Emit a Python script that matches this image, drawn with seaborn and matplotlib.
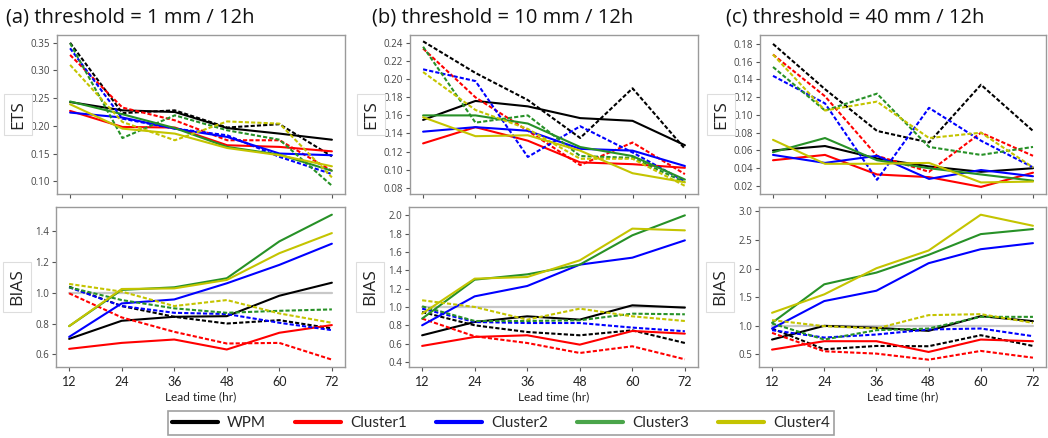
import numpy as np
import pandas as pd
import matplotlib
matplotlib.use("Agg")
import matplotlib.pyplot as plt
import seaborn as sns
from matplotlib.lines import Line2D

sns.set_style("white")
plt.rcParams['font.family'] = ['Open Sans', 'DejaVu Sans']

lead_times = [12, 24, 36, 48, 60, 72]
models = ['WPM', 'Cluster1', 'Cluster2', 'Cluster3', 'Cluster4']
colors = ['black', 'red', 'blue', '#279127', '#c4c400']
titles = ['(a) threshold = 1 mm / 12h', '(b) threshold = 10 mm / 12h', '(c) threshold = 40 mm / 12h']

# ---- ETS, rows = WPM, Cluster1..4 ----
ets_a_solid = [[0.243, 0.228, 0.225, 0.196, 0.186, 0.175],
               [0.227, 0.198, 0.197, 0.165, 0.162, 0.154],
               [0.224, 0.215, 0.195, 0.180, 0.150, 0.147],
               [0.244, 0.221, 0.196, 0.162, 0.148, 0.119],
               [0.239, 0.195, 0.186, 0.160, 0.147, 0.127]]
ets_a_dash = [[0.350, 0.223, 0.228, 0.197, 0.203, 0.145],
              [0.328, 0.233, 0.210, 0.174, 0.174, 0.119],
              [0.340, 0.213, 0.195, 0.183, 0.144, 0.113],
              [0.349, 0.178, 0.219, 0.192, 0.175, 0.092],
              [0.310, 0.207, 0.174, 0.208, 0.204, 0.107]]
ets_b_solid = [[0.155, 0.176, 0.170, 0.157, 0.154, 0.127],
               [0.129, 0.147, 0.132, 0.108, 0.106, 0.102],
               [0.142, 0.147, 0.143, 0.123, 0.121, 0.104],
               [0.160, 0.160, 0.151, 0.125, 0.115, 0.089],
               [0.158, 0.137, 0.138, 0.121, 0.096, 0.086]]
ets_b_dash = [[0.242, 0.207, 0.177, 0.135, 0.190, 0.123],
              [0.234, 0.180, 0.143, 0.105, 0.130, 0.095],
              [0.211, 0.198, 0.114, 0.148, 0.119, 0.087],
              [0.236, 0.152, 0.160, 0.115, 0.113, 0.086],
              [0.208, 0.166, 0.145, 0.112, 0.112, 0.082]]
ets_c_solid = [[0.060, 0.065, 0.051, 0.042, 0.036, 0.040],
               [0.049, 0.055, 0.033, 0.030, 0.019, 0.035],
               [0.055, 0.046, 0.054, 0.028, 0.038, 0.031],
               [0.058, 0.074, 0.049, 0.040, 0.033, 0.026],
               [0.072, 0.045, 0.045, 0.046, 0.024, 0.025]]
ets_c_dash = [[0.180, 0.129, 0.082, 0.069, 0.134, 0.082],
              [0.168, 0.121, 0.054, 0.036, 0.080, 0.054],
              [0.144, 0.113, 0.027, 0.108, 0.071, 0.041],
              [0.154, 0.105, 0.124, 0.064, 0.055, 0.064],
              [0.168, 0.105, 0.115, 0.074, 0.080, 0.041]]

# ---- BIAS ----
bias_a_solid = [[0.700, 0.818, 0.844, 0.848, 0.981, 1.066],
                [0.635, 0.674, 0.696, 0.631, 0.740, 0.790],
                [0.713, 0.931, 0.957, 1.062, 1.182, 1.320],
                [0.783, 1.019, 1.036, 1.095, 1.335, 1.509],
                [0.783, 1.025, 1.029, 1.084, 1.258, 1.389]]
bias_a_dash = [[1.040, 0.914, 0.844, 0.800, 0.822, 0.768],
               [0.997, 0.840, 0.746, 0.670, 0.674, 0.565],
               [1.036, 0.914, 0.870, 0.862, 0.805, 0.757],
               [1.036, 0.953, 0.899, 0.870, 0.883, 0.892],
               [1.058, 1.008, 0.914, 0.953, 0.866, 0.805]]
bias_b_solid = [[0.691, 0.836, 0.898, 0.862, 1.018, 0.993],
                [0.575, 0.673, 0.691, 0.589, 0.738, 0.709],
                [0.800, 1.116, 1.229, 1.462, 1.538, 1.727],
                [0.873, 1.298, 1.356, 1.462, 1.782, 2.000],
                [0.927, 1.309, 1.327, 1.509, 1.855, 1.836]]
bias_b_dash = [[0.945, 0.800, 0.727, 0.691, 0.745, 0.607],
               [0.873, 0.680, 0.607, 0.498, 0.571, 0.429],
               [0.982, 0.836, 0.825, 0.825, 0.775, 0.735],
               [1.007, 0.847, 0.847, 0.855, 0.927, 0.920],
               [1.073, 1.000, 0.862, 0.982, 0.898, 0.847]]
bias_c_solid = [[0.758, 0.998, 0.963, 0.910, 1.167, 1.080],
                [0.582, 0.729, 0.729, 0.541, 0.758, 0.729],
                [0.951, 1.431, 1.612, 2.093, 2.338, 2.444],
                [1.050, 1.724, 1.929, 2.239, 2.602, 2.690],
                [1.226, 1.548, 2.005, 2.315, 2.941, 2.748]]
bias_c_dash = [[0.951, 0.588, 0.646, 0.641, 0.834, 0.646],
               [0.875, 0.553, 0.512, 0.406, 0.559, 0.441],
               [0.922, 0.793, 0.846, 0.934, 0.951, 0.817],
               [1.039, 0.758, 0.922, 0.951, 1.155, 1.155],
               [1.097, 0.992, 0.951, 1.185, 1.202, 1.050]]

ets_yticks = [np.arange(0.10, 0.351, 0.05), np.arange(0.08, 0.241, 0.02), np.arange(0.02, 0.181, 0.02)]
ets_ylim = [(0.077, 0.364), (0.073, 0.249), (0.011, 0.190)]
bias_yticks = [np.arange(0.6, 1.41, 0.2), np.arange(0.4, 2.01, 0.2), np.arange(0.5, 3.01, 0.5)]
bias_ylim = [(0.517, 1.559), (0.345, 2.091), (0.278, 3.076)]


def long_df(solid, dash):
    rows = []
    for kind, arr in (('solid', solid), ('dash', dash)):
        for m, vals in zip(models, arr):
            for t, v in zip(lead_times, vals):
                rows.append((t, v, m, kind))
    return pd.DataFrame(rows, columns=['lead', 'value', 'model', 'kind'])


W, H = 1048, 438
fig = plt.figure(figsize=(W / 100, H / 100), dpi=100)


def ax_at(l, t, r, b):
    return fig.add_axes([l / W, 1 - b / H, (r - l) / W, (b - t) / H])

lefts = [57, 410, 760]
rights = [345, 698, 1046]
ets_data = [(ets_a_solid, ets_a_dash), (ets_b_solid, ets_b_dash), (ets_c_solid, ets_c_dash)]
bias_data = [(bias_a_solid, bias_a_dash), (bias_b_solid, bias_b_dash), (bias_c_solid, bias_c_dash)]
title_x = [6, 372, 726]
palette = dict(zip(models, colors))
dashes = {'solid': '', 'dash': (2.0, 1.0)}

for i in range(3):
    ax1 = ax_at(lefts[i], 35, rights[i], 194)
    ax2 = ax_at(lefts[i] - 1, 207, rights[i], 367)
    for ax, data, yt, yl, lab, fmt in ((ax1, ets_data[i], ets_yticks[i], ets_ylim[i], 'ETS', '{:.2f}'),
                                       (ax2, bias_data[i], bias_yticks[i], bias_ylim[i], 'BIAS', '{:.1f}')):
        df = long_df(*data)
        if lab == 'BIAS':
            ax.plot([lead_times[0], lead_times[-1]], [1, 1], color='#c8c8c8', lw=1.6, zorder=1)
        sns.lineplot(data=df, x='lead', y='value', hue='model', style='kind',
                     palette=palette, dashes=dashes, ax=ax, legend=False, lw=1.5,
                     hue_order=models, style_order=['solid', 'dash'], zorder=2)
        ax.set_xlim(9.0, 75.0)
        ax.set_ylim(*yl)
        ax.set_yticks(yt)
        ax.set_yticklabels([fmt.format(v) for v in yt], fontsize=7, color='#444444')
        ax.set_xticks(lead_times)
        ax.tick_params(axis='both', length=3, width=0.8, color='#555555', direction='out')
        ax.tick_params(axis='y', pad=2, left=True)
        ax.tick_params(axis='x', bottom=True)
        for s in ax.spines.values():
            s.set_color('#9a9a9a')
            s.set_linewidth(1.0)
        ax.set_xlabel('')
        ax.set_ylabel('')
        ax.text(-0.135, 0.5, lab, transform=ax.transAxes, rotation=90, fontsize=12.5,
                ha='center', va='center', color='#222222',
                bbox=dict(boxstyle='square,pad=0.35', fc='white', ec='#dddddd', lw=0.8))
        if lab == 'ETS':
            ax.set_xticklabels([])
        else:
            ax.set_xticklabels([str(t) for t in lead_times], fontsize=9, color='#222222',
                               family=['Lato', 'DejaVu Sans'])
            ax.text(0.5, -0.185, 'Lead time (hr)', transform=ax.transAxes, fontsize=8.5,
                    ha='center', va='center', color='#222222', family=['Lato', 'DejaVu Sans'])
    fig.text(title_x[i] / W, 1 - 18 / H, titles[i], fontsize=14.5, ha='left', va='center',
             color='#111111')

handles = [Line2D([0], [0], color=c, lw=3) for c in ['black', 'red', 'blue', '#4aa54a', '#c4c400']]
leg = fig.legend(handles, models, loc='center', bbox_to_anchor=((157 + 845) / 2 / W, 1 - 423 / H),
                 ncol=5, frameon=True, fancybox=False, handlelength=3.0,
                 columnspacing=1.9, handletextpad=0.6, borderpad=0.3,
                 prop={'family': ['Lato', 'DejaVu Sans'], 'size': 11})
leg.get_frame().set_edgecolor('#888888')
leg.get_frame().set_linewidth(1.2)

fig.savefig('out.png', dpi=100)
